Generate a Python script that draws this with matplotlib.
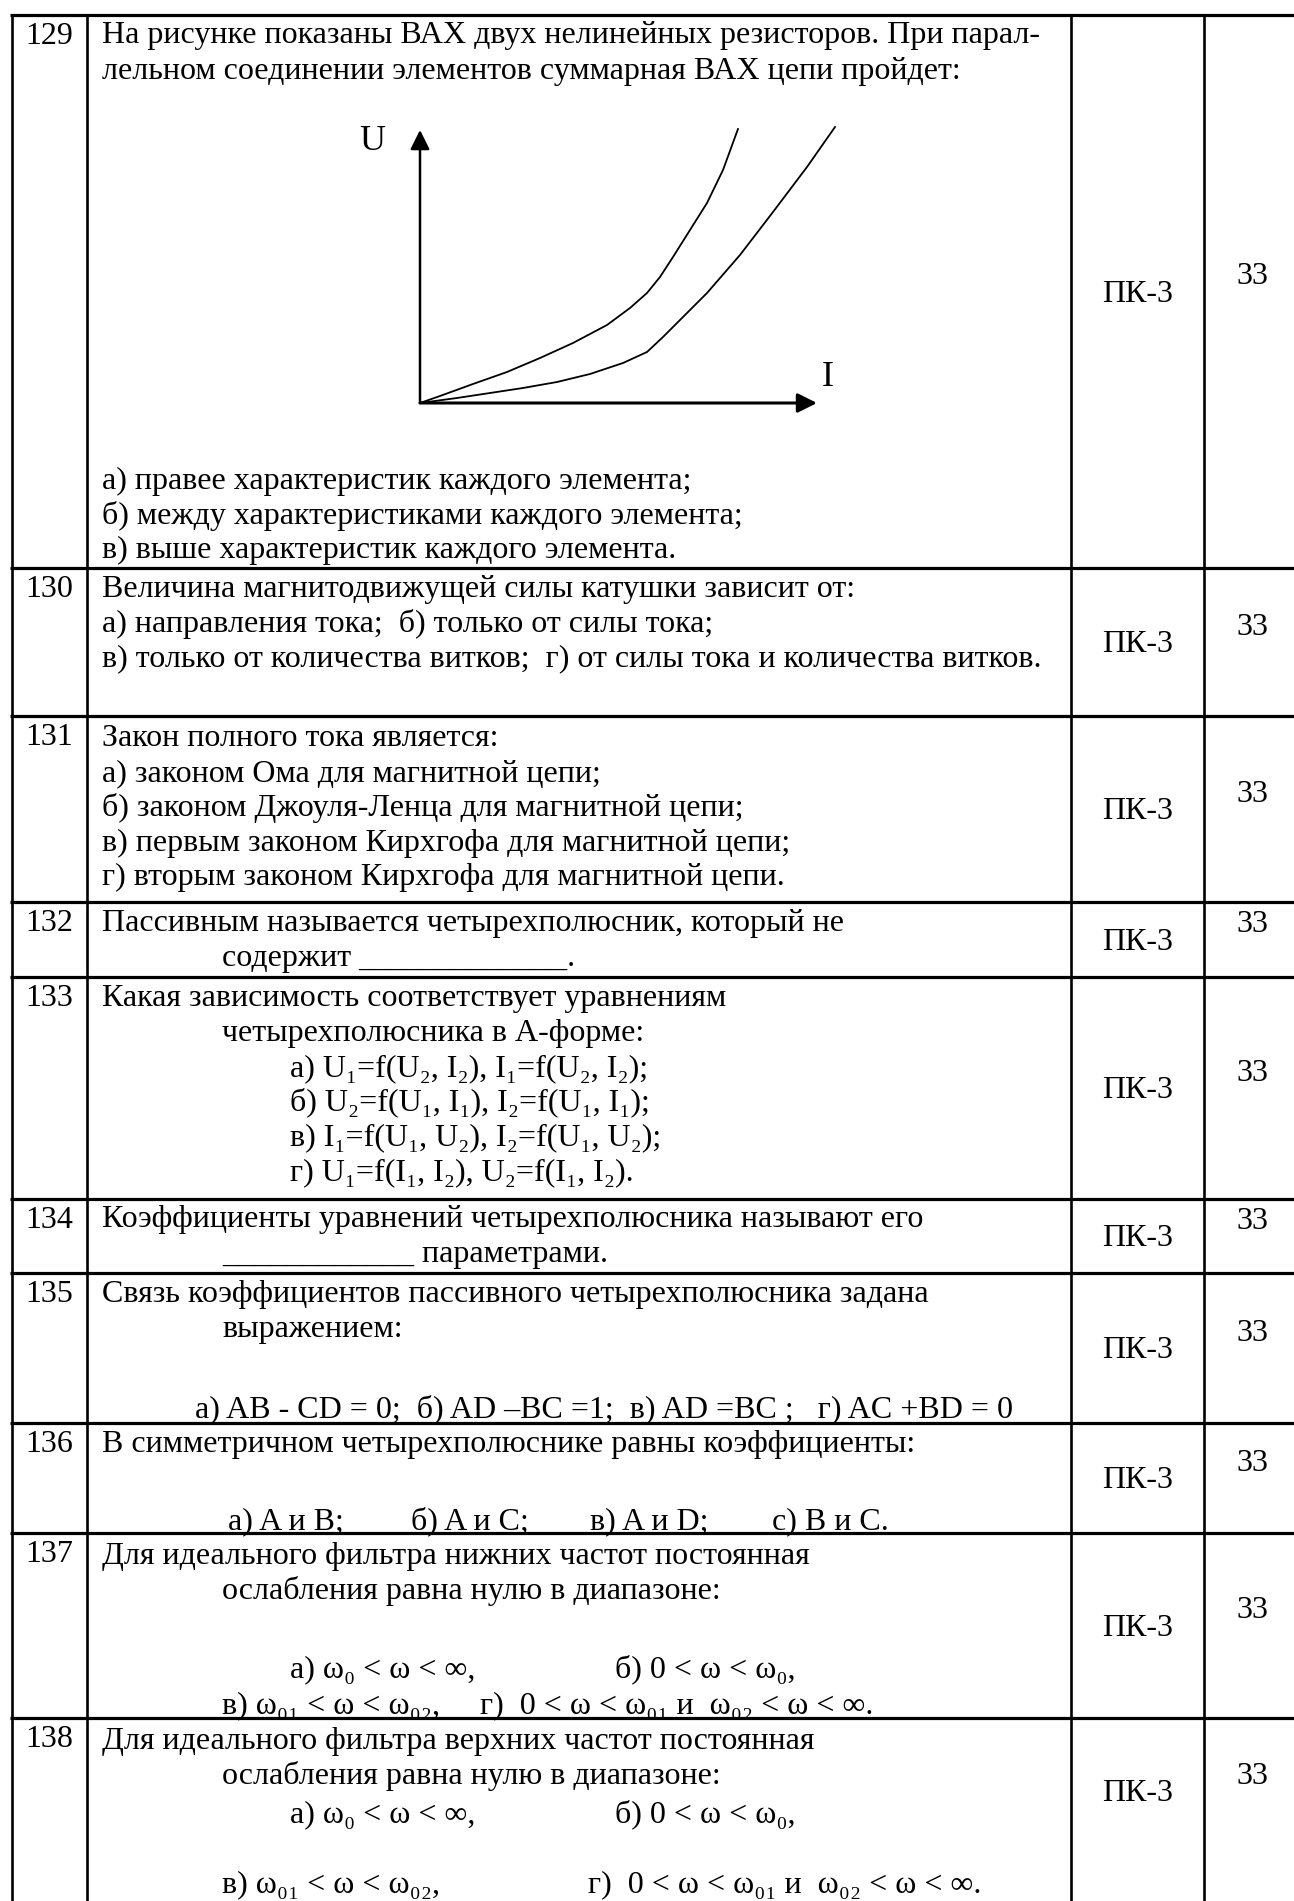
import matplotlib
matplotlib.use('Agg')
import matplotlib.pyplot as plt

plt.rcParams['font.family'] = ['Liberation Serif', 'DejaVu Serif']

W, H = 1294, 1901
FS = 23

# --- table content ---
numbers = ['129', '130', '131', '132', '133', '134', '135', '136', '137', '138']
codes = ['ПК-3'] * 10
scores = ['33'] * 10

questions = [
    ['На рисунке показаны ВАХ двух нелинейных резисторов. При парал-',
     'лельном соединении элементов суммарная ВАХ цепи пройдет:',
     'а) правее характеристик каждого элемента;',
     'б) между характеристиками каждого элемента;',
     'в) выше характеристик каждого элемента.'],
    ['Величина магнитодвижущей силы катушки зависит от:',
     'а) направления тока;  б) только от силы тока;',
     'в) только от количества витков;  г) от силы тока и количества витков.'],
    ['Закон полного тока является:',
     'а) законом Ома для магнитной цепи;',
     'б) законом Джоуля-Ленца для магнитной цепи;',
     'в) первым законом Кирхгофа для магнитной цепи;',
     'г) вторым законом Кирхгофа для магнитной цепи.'],
    ['Пассивным называется четырехполюсник, который не',
     'содержит _____________.'],
    ['Какая зависимость соответствует уравнениям',
     'четырехполюсника в А-форме:',
     'а) U₁=f(U₂, I₂), I₁=f(U₂, I₂);',
     'б) U₂=f(U₁, I₁), I₂=f(U₁, I₁);',
     'в) I₁=f(U₁, U₂), I₂=f(U₁, U₂);',
     'г) U₁=f(I₁, I₂), U₂=f(I₁, I₂).'],
    ['Коэффициенты уравнений четырехполюсника называют его',
     '____________ параметрами.'],
    ['Связь коэффициентов пассивного четырехполюсника задана',
     'выражением:',
     'а) AB - CD = 0;  б) AD –BC =1;  в) AD =BC ;   г) AC +BD = 0'],
    ['В симметричном четырехполюснике равны коэффициенты:',
     'а) A и B;', 'б) A и C;', 'в) A и D;', 'с) B и C.'],
    ['Для идеального фильтра нижних частот постоянная',
     'ослабления равна нулю в диапазоне:',
     'а) ω₀ < ω < ∞,', 'б) 0 < ω < ω₀,',
     'в) ω₀₁ < ω < ω₀₂,',
     'г)  0 < ω < ω₀₁ и  ω₀₂ < ω < ∞.'],
    ['Для идеального фильтра верхних частот постоянная',
     'ослабления равна нулю в диапазоне:',
     'а) ω₀ < ω < ∞,', 'б) 0 < ω < ω₀,',
     'в) ω₀₁ < ω < ω₀₂,',
     'г)  0 < ω < ω₀₁ и  ω₀₂ < ω < ∞.'],
]

# --- VAX curves (I, U) of the two resistors ---
i_curve1 = [0, 0.20, 0.53, 0.87, 1.20, 1.53, 1.87, 2.10, 2.27, 2.40, 2.53, 2.70, 2.87, 3.03, 3.18]
u_curve1 = [0, 0.07, 0.19, 0.31, 0.45, 0.60, 0.78, 0.95, 1.10, 1.26, 1.46, 1.73, 2.00, 2.33, 2.74]
i_curve2 = [0, 0.37, 0.70, 1.03, 1.37, 1.70, 2.03, 2.27, 2.43, 2.63, 2.87, 3.20, 3.53, 3.87, 4.15]
u_curve2 = [0, 0.05, 0.10, 0.15, 0.21, 0.29, 0.40, 0.51, 0.66, 0.86, 1.10, 1.48, 1.91, 2.36, 2.76]

# --- layout (pixels) ---
row_tops = [15, 568, 716, 902, 977, 1199, 1273, 1423, 1533, 1718]
row_bottoms = row_tops[1:] + [1864]
col_x = [11.7, 86.7, 1071, 1204]
X0, XI = 102, 222
text_pos = [
    [(X0, 34), (X0, 70), (X0, 480), (X0, 515), (X0, 549)],
    [(X0, 588), (X0, 623), (X0, 657)],
    [(X0, 737), (X0, 772), (X0, 807), (X0, 842), (X0, 876)],
    [(X0, 922), (XI, 957)],
    [(X0, 997), (XI, 1032), (290, 1067), (290, 1101), (290, 1136), (290, 1171)],
    [(X0, 1218), (XI, 1253)],
    [(X0, 1293), (XI, 1328), (195, 1408)],
    [(X0, 1443), (228, 1520), (411, 1520), (590, 1520), (772, 1520)],
    [(X0, 1555), (XI, 1590), (290, 1668), (615, 1668), (222, 1704), (480, 1704)],
    [(X0, 1740), (XI, 1775), (290, 1813), (615, 1813), (222, 1883), (588, 1883)],
]

fig = plt.figure(figsize=(W / 100, H / 100), dpi=100)
ax = fig.add_axes([0, 0, 1, 1])
ax.set_xlim(0, W)
ax.set_ylim(H, 0)
ax.axis('off')

for y in row_tops:
    ax.plot([10, W], [y, y], color='k', lw=2.3, solid_capstyle='butt')
for x in col_x:
    ax.plot([x, x], [row_tops[0], H], color='k', lw=1.9, solid_capstyle='butt')

for k in range(len(numbers)):
    top, bot = row_tops[k], row_bottoms[k]
    mid = (top + bot) / 2
    ax.text((col_x[0] + col_x[1]) / 2, top + 29, numbers[k], fontsize=FS,
            ha='center', va='baseline')
    ax.text((col_x[2] + col_x[3]) / 2, mid + 10, codes[k], fontsize=FS,
            ha='center', va='baseline')
    ax.text(1252, mid - 7, scores[k], fontsize=FS, ha='center', va='baseline')
    for s, (x, y) in zip(questions[k], text_pos[k]):
        ax.text(x, y + 9, s, fontsize=FS, ha='left', va='baseline')

# --- diagram of row 129 ---
ox, oy = 420, 403
ax2 = fig.add_axes([ox / W, (H - oy) / H, 430 / W, 290 / H])
ax2.set_xlim(0, 4.3)
ax2.set_ylim(0, 2.9)
ax2.axis('off')

arrow = dict(arrowstyle='-|>,head_length=0.9,head_width=0.45', mutation_scale=13,
             lw=2.2, color='k', shrinkA=0, shrinkB=0)
ax2.annotate('', xy=(3.97, 0), xytext=(0, 0), arrowprops=arrow)
ax2.annotate('', xy=(0, 2.73), xytext=(0, 0), arrowprops=dict(arrow, lw=1.8))
ax2.plot(i_curve1, u_curve1, color='k', lw=1.3, clip_on=False, solid_joinstyle='round')
ax2.plot(i_curve2, u_curve2, color='k', lw=1.3, clip_on=False, solid_joinstyle='round')
ax2.text(-0.48, 2.61, 'U', fontsize=26, ha='center', va='center')
ax2.text(4.08, 0.25, 'I', fontsize=26, ha='center', va='center')

fig.savefig('out.png', dpi=100)
